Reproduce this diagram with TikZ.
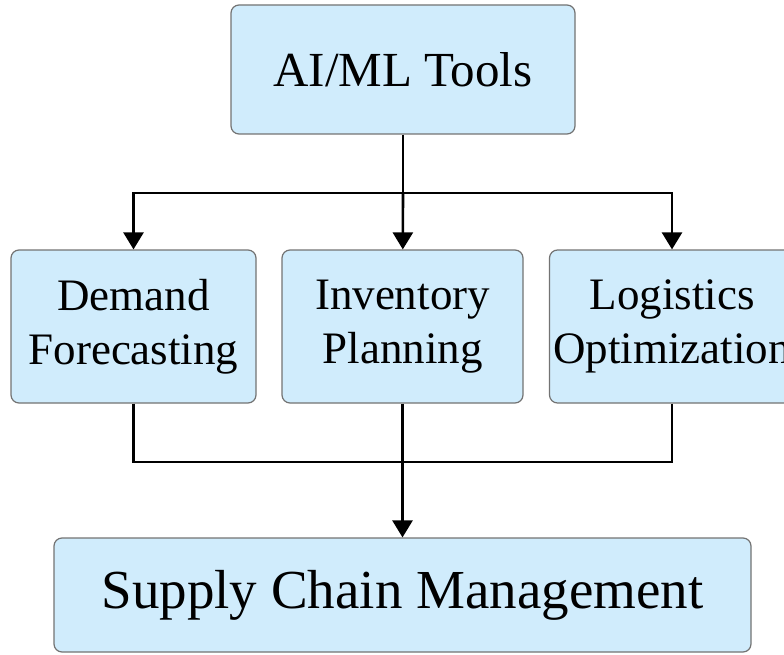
\documentclass[tikz,border=0pt]{standalone}
\usepackage{fontspec}
\setmainfont{Liberation Serif}
\usetikzlibrary{arrows.meta, positioning}
\definecolor{boxblue}{RGB}{208,236,252}
\definecolor{boxline}{RGB}{115,115,115}

\begin{document}
\begin{tikzpicture}[x=1pt, y=-1pt,
  box/.style = {draw=boxline, fill=boxblue, rounded corners=8pt,
    line width=1.2pt, align=center, inner sep=0pt},
  midbox/.style = {box, minimum width=245pt, minimum height=153pt,
    font=\fontsize{45}{54}\selectfont},
  link/.style = {line width=2.6pt},
  arrow/.style = {link, -{Triangle[width=20pt, length=17pt]}}]
\useasboundingbox (0,0) rectangle (784,655);

\node[box, minimum width=344pt, minimum height=129pt,
  font=\fontsize{49}{59}\selectfont] (tools) at (403,69.5) {AI/ML Tools};

\node[midbox] (demand) at (133.5,326.5) {Demand\\Forecasting};
\node[midbox, minimum width=241pt] (inventory) at (402.5,326.5) {Inventory\\Planning};
\node[midbox] (logistics) at (672,326.5) {Logistics\\Optimization};

\node[box, minimum width=697pt, minimum height=114pt,
  font=\fontsize{55}{66}\selectfont] (scm) at (402.5,595) {Supply Chain Management};

\coordinate (split) at (403,193); % fork below the tools
\coordinate (merge) at (403,462); % join above the management box

\draw[link] (tools) -- (split);
\draw[arrow] (split) -| (demand);
\draw[arrow] (split) -- (inventory);
\draw[arrow] (split) -| (logistics);

\draw[link] (demand) |- (merge);
\draw[link] (logistics) |- (merge);
\draw[arrow] (inventory) -- (scm);
\end{tikzpicture}
\end{document}
